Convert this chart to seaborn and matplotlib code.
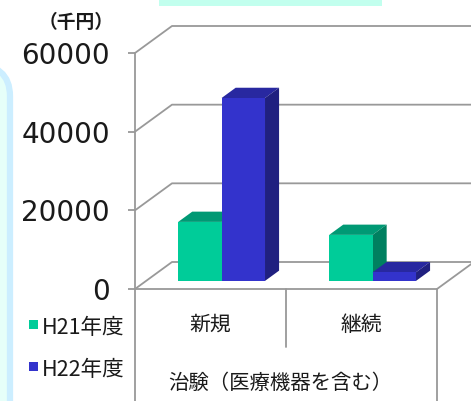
import numpy as np
import pandas as pd
import matplotlib
matplotlib.use('Agg')
import matplotlib.pyplot as plt
import seaborn as sns
from matplotlib.patches import Polygon, Rectangle, FancyBboxPatch
from matplotlib.lines import Line2D
from matplotlib.transforms import Affine2D

# データ（千円）
categories = ['新規', '継続']
years = ['H21年度', 'H22年度']
h21 = [15000, 11700]
h22 = [46500, 2200]
yticks = [0, 20000, 40000, 60000]

df = pd.DataFrame({
    '区分': categories * 2,
    '年度': [years[0]] * 2 + [years[1]] * 2,
    '金額': h21 + h22,
})

front = {years[0]: '#00CC99', years[1]: '#3333CC'}
top = {years[0]: '#009974', years[1]: '#2828A0'}
side = {years[0]: '#008060', years[1]: '#202080'}
grid_c = '#999999'
text_c = '#1a1a1a'

sns.set_theme(style='white')
plt.rcParams['font.family'] = ['Noto Sans CJK JP', 'DejaVu Sans']

W, H = 471, 401
fig = plt.figure(figsize=(W / 100, H / 100), dpi=100)
fig.patch.set_facecolor('white')

# 背景の飾り
fig.patches.append(FancyBboxPatch((-60 / W, -0.2), 70 / W, (H - 64) / H + 0.2,
                                  boxstyle='round,pad=0,rounding_size=0.08',
                                  transform=fig.transFigure, facecolor='#E6FFF9',
                                  edgecolor='#CCEEFF', linewidth=4.5, zorder=0))
fig.patches.append(Rectangle((159 / W, (H - 6) / H), 223 / W, 6 / H,
                             transform=fig.transFigure, facecolor='#C2FFEE',
                             edgecolor='none', zorder=0))

ax = fig.add_axes([135 / W, (H - 289) / H, (437 - 135) / W, (289 - 53) / H])
ax.patch.set_alpha(0)
sns.barplot(data=df, x='区分', y='金額', hue='年度', palette=front, width=0.575,
            saturation=1, legend=False, ax=ax, zorder=5)
ax.set_xlim(-0.5, 1.5)
ax.set_ylim(0, 60000)

for s in ['top', 'right', 'bottom']:
    ax.spines[s].set_visible(False)
ax.spines['left'].set_color(grid_c)
ax.spines['left'].set_linewidth(1.3)
ax.set_yticks(yticks)
ax.set_yticklabels([str(v) for v in yticks], fontfamily='DejaVu Sans')
ax.tick_params(axis='y', length=5, width=1.3, color=grid_c, pad=13,
               labelsize=20, labelcolor=text_c, left=True)
ax.set_xticks([])
ax.set_xlabel('')
ax.set_ylabel('')

# 奥行き（ピクセル）
depth = np.array([37.0, 27.0])
f0, f1 = 0.30, 0.68
to_fig = fig.transFigure.inverted()


def pt(x, y, f=0.0):
    p = ax.transData.transform((x, y)) + depth * f
    return to_fig.transform(p)


def ax_line(points, **kw):
    xs, ys = zip(*points)
    ax.add_artist(Line2D(xs, ys, transform=fig.transFigure, color=grid_c,
                         linewidth=1.3, zorder=1, clip_on=False, **kw))


# 奥の壁の目盛線と床
for v in yticks:
    ax_line([pt(-0.5, v), pt(-0.5, v, 1.0), pt(1.5, v, 1.0)])
ax_line([pt(-0.5, 0), pt(1.5, 0), pt(1.5, 0, 1.0)])

# 3D の棒
bars = []
for patch, yr in zip(ax.patches, [years[0]] * 2 + [years[1]] * 2):
    bars.append((patch.get_x(), patch.get_width(), patch.get_height(), yr, patch))
bars.sort(key=lambda b: b[0])
z = 10
for x, w, h, yr, patch in bars:
    off = depth * f0
    patch.set_transform(ax.transData + Affine2D().translate(off[0], off[1]))
    patch.set_edgecolor('none')
    patch.set_clip_on(False)
    patch.set_zorder(z + 0.5)
    topface = [pt(x, h, f0), pt(x + w, h, f0), pt(x + w, h, f1), pt(x, h, f1)]
    sideface = [pt(x + w, 0, f0), pt(x + w, h, f0), pt(x + w, h, f1), pt(x + w, 0, f1)]
    ax.add_patch(Polygon(topface, closed=True, transform=fig.transFigure,
                         facecolor=top[yr], edgecolor='none', zorder=z, clip_on=False))
    ax.add_patch(Polygon(sideface, closed=True, transform=fig.transFigure,
                         facecolor=side[yr], edgecolor='none', zorder=z, clip_on=False))
    z += 1

# 下の表
low = -(H - 289) / (289 - 53)
ax.plot([0, 0], [0, low], transform=ax.transAxes, color=grid_c, lw=1.3, clip_on=False)
ax.plot([1, 1], [0, low], transform=ax.transAxes, color=grid_c, lw=1.3, clip_on=False)
ax.plot([0.5, 0.5], [0, -(347 - 289) / (289 - 53)], transform=ax.transAxes,
        color=grid_c, lw=1.3, clip_on=False)
for i, cat in enumerate(categories):
    ax.text(i, -(325 - 289) / (289 - 53), cat, transform=ax.get_xaxis_transform(),
            ha='center', va='center', fontsize=15, color=text_c)
fig.text(280 / W, 1 - 383 / H, '治験（医療機器を含む）', ha='center', va='center',
         fontsize=14.7, color=text_c)

# 単位
fig.text(76 / W, 1 - 22 / H, '（千円）', ha='center', va='center', fontsize=13.5,
         fontweight='bold', color=text_c)

# 凡例
for yr, yc in zip(years, [325, 367]):
    fig.patches.append(Rectangle((29 / W, 1 - (yc + 3.5) / H), 9 / W, 9 / H,
                                 transform=fig.transFigure, facecolor=front[yr],
                                 edgecolor='none', zorder=3))
    fig.text(42 / W, 1 - (yc + 3) / H, yr, ha='left', va='center', fontsize=15.5,
             color=text_c)

fig.savefig('out.png', dpi=100, facecolor='white')
